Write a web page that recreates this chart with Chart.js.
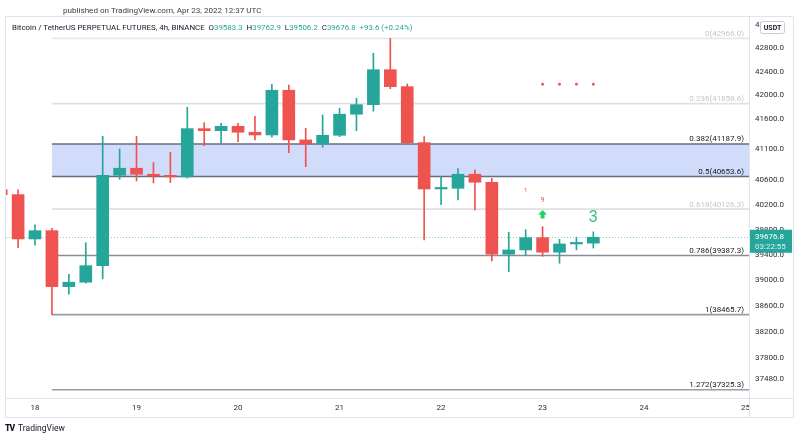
<!DOCTYPE html>
<html lang="en">
<head>
<meta charset="UTF-8">
<title>BTCUSDT Perpetual 4h</title>
<script src="https://cdn.jsdelivr.net/npm/chart.js@4.4.1/dist/chart.umd.min.js"></script>
<style>
html,body{margin:0;padding:0;background:#fff;}
#wrap{position:relative;width:801px;height:440px;font-family:Roboto,"Liberation Sans",sans-serif;color:#131722;}
#c{position:absolute;left:0;top:0;}
.t{position:absolute;white-space:nowrap;line-height:10px;}
.v{color:#26a69a;}
</style>
</head>
<body>
<div id="wrap">
<canvas id="c" width="801" height="440"></canvas>
<div class="t" style="left:63px;top:5px;font-size:8.1px;color:#3b3e47">published on TradingView.com, Apr 23, 2022 12:37 UTC</div>
<div class="t" style="left:12px;top:23px;font-size:7.9px">Bitcoin / TetherUS PERPETUAL FUTURES, 4h, BINANCE&nbsp; O<span class="v">39583.3</span>&nbsp; H<span class="v">39762.9</span>&nbsp; L<span class="v">39506.2</span>&nbsp; C<span class="v">39676.8</span>&nbsp; <span class="v">+93.6 (+0.24%)</span></div>
<div class="t" style="left:5px;top:423px;font-size:8.5px"><b style="font-weight:900;letter-spacing:-1px">TV</b>&nbsp; TradingView</div>
</div>
<script>
// 4h candles, hours from Apr 18 00:00 UTC
const times  = [-8,-4,0,4,8,12,16,20,24,28,32,36,40,44,48,52,56,60,64,68,72,76,80,84,88,92,96,100,104,108,112,116,120,124,128,132];
const opens  = [40436,40360,39650,39782,38900,38969,39228,40675,40789,40691,40663,40648,41441,41407,41480,41381,41336,42083,41254,41188,41331,41681,41841,42431,42144,41209,40452,40462,40691,40561,39408,39476,39671,39440,39571,39583.3];
const highs  = [40460,40436,39873,39820,39094,39591,41315,41105,41315,40881,41050,41798,41540,41530,41530,41647,42184,42172,41447,41669,41781,41949,42711,42966,42189,41309,40652,40782,40761,40626,39756,39798,39846,39645,39677,39762.9];
const lows   = [40330,39512,39550,38465.7,38782,38955,39021,40609,40582,40549,40554,40630,41159,41199,41226,41254,41300,41044,40815,41133,41308,41407,41731,42110,41195,39634,40198,40274,40113,39302,39134,39386,39376,39266,39476,39506.2];
const closes = [40360,39650,39782,38900,38969,39228,40675,40789,40691,40663,40648,41441,41407,41480,41381,41336,42083,41254,41188,41331,41681,41841,42431,42144,41209,40452,40462,40691,40561,39408,39476,39671,39440,39571,39583.3,39676.8];

const fibLevels = [0,0.236,0.382,0.5,0.618,0.786,1,1.272];
const fibPrices = [42966.0,41858.6,41187.9,40653.6,40126.3,39387.3,38465.7,37325.3];
const fibStartHour = 4;

const dotHours  = [120,124,128,132];
const dotPrices = [42184,42184,42184,42184];

const yTicks = [43200,42800,42400,42000,41600,41100,40600,40200,39800,39400,39000,38600,38200,37800,37480];
const xTickHours  = [0,24,48,72,96,120,144,168];
const xTickLabels = ['18','19','20','21','22','23','24','25'];

const GREEN='#26a69a', RED='#ef5350';
const FONT='Roboto, "Liberation Sans", sans-serif';
const fibColors = ['#e6e8ed','#dfe1e6','#686c7c','#686c7c','#dfe1e6','#8a8d96','#9a9ca3','#9a9ca3'];
const fibText   = ['#c4c6cc','#c4c6cc','#202020','#202020','#c4c6cc','#202020','#202020','#202020'];

const col = closes.map((c,i)=> c>=opens[i] ? GREEN : RED);

const overlay = {
  id:'overlay',
  beforeDatasetsDraw(chart){
    const {ctx, chartArea:a, scales:{x,y}} = chart;
    ctx.save();
    ctx.beginPath(); ctx.rect(a.left,a.top,a.right-a.left,a.bottom-a.top); ctx.clip();
    const x0 = x.getPixelForValue(fibStartHour);
    const yA = y.getPixelForValue(fibPrices[2]), yB = y.getPixelForValue(fibPrices[3]);
    ctx.fillStyle='#d1dcfb';
    ctx.fillRect(x0,yA,a.right-x0,yB-yA);
    const yc = Math.round(y.getPixelForValue(closes[closes.length-1]))+0.5;
    ctx.strokeStyle='rgba(38,166,154,0.55)'; ctx.lineWidth=1; ctx.setLineDash([1,2]);
    ctx.beginPath(); ctx.moveTo(a.left,yc); ctx.lineTo(a.right,yc); ctx.stroke();
    ctx.setLineDash([]);
    fibPrices.forEach((p,i)=>{
      const yy = y.getPixelForValue(p);
      ctx.strokeStyle=fibColors[i]; ctx.lineWidth=1.6;
      ctx.beginPath(); ctx.moveTo(x0,yy); ctx.lineTo(a.right,yy); ctx.stroke();
    });
    ctx.restore();
  },
  afterDatasetsDraw(chart){
    const {ctx, chartArea:a, scales:{x,y}} = chart;
    ctx.save();
    ctx.font='8px '+FONT; ctx.textAlign='right'; ctx.textBaseline='alphabetic';
    fibPrices.forEach((p,i)=>{
      ctx.fillStyle=fibText[i];
      ctx.fillText(fibLevels[i]+'('+p.toFixed(1)+')', a.right-5, y.getPixelForValue(p)-2.5);
    });
    // TD sequential marks
    ctx.textAlign='center'; ctx.textBaseline='middle';
    ctx.fillStyle=RED; ctx.font='6px '+FONT;
    ctx.fillText('1', x.getPixelForValue(116), y.getPixelForValue(40420));
    ctx.font='7px '+FONT;
    ctx.fillText('9', x.getPixelForValue(120), y.getPixelForValue(40274));
    const ax = x.getPixelForValue(120), at = y.getPixelForValue(40113);
    ctx.fillStyle='#1fd65f';
    ctx.beginPath(); ctx.moveTo(ax,at); ctx.lineTo(ax+4.5,at+4.5); ctx.lineTo(ax+2,at+4.5); ctx.lineTo(ax+2,at+8.5);
    ctx.lineTo(ax-2,at+8.5); ctx.lineTo(ax-2,at+4.5); ctx.lineTo(ax-4.5,at+4.5); ctx.closePath(); ctx.fill();
    ctx.fillStyle='#34c17c'; ctx.font='16px '+FONT;
    ctx.fillText('3', x.getPixelForValue(132), y.getPixelForValue(39990));
    ctx.restore();
  },
  afterDraw(chart){
    const {ctx, chartArea:a, scales:{y}} = chart;
    ctx.save();
    ctx.strokeStyle='#e0e3eb'; ctx.lineWidth=1;
    const L=a.left-0.5, R=793.5, T=a.top-0.5, B=417.5, AX=a.right+0.5, XB=a.bottom+0.5;
    ctx.beginPath();
    ctx.moveTo(L,T); ctx.lineTo(R,T); ctx.lineTo(R,B); ctx.lineTo(L,B); ctx.closePath();
    ctx.moveTo(AX,T); ctx.lineTo(AX,B);
    ctx.moveTo(L,XB); ctx.lineTo(R,XB);
    ctx.stroke();
    // USDT badge
    ctx.fillStyle='#fff'; ctx.strokeStyle='#c9ccd3';
    ctx.beginPath(); ctx.roundRect(760.5,21.5,24,12,2); ctx.fill(); ctx.stroke();
    ctx.fillStyle='#131722'; ctx.font='bold 7px '+FONT; ctx.textAlign='center'; ctx.textBaseline='middle';
    ctx.fillText('USDT',772.5,28);
    // last price badge
    const yc = y.getPixelForValue(closes[closes.length-1]);
    ctx.fillStyle=GREEN;
    ctx.fillRect(a.right+1, yc-7.5, 42, 23);
    ctx.fillStyle='#fff'; ctx.font='8px '+FONT; ctx.textAlign='left';
    ctx.fillText(closes[closes.length-1].toFixed(1), a.right+6, yc);
    ctx.fillStyle='rgba(255,255,255,0.85)';
    ctx.fillText('03:22:55', a.right+6, yc+10);
    ctx.restore();
  }
};

new Chart(document.getElementById('c'), {
  type:'bar',
  data:{
    datasets:[
      {label:'wick', data: times.map((t,i)=>({x:t, y:[lows[i],highs[i]]})), backgroundColor:col, barThickness:1, grouped:false, order:2},
      {label:'body', data: times.map((t,i)=>({x:t, y:[Math.min(opens[i],closes[i]), Math.max(opens[i],closes[i])]})), backgroundColor:col, barThickness:12, minBarLength:1.5, grouped:false, order:1},
      {type:'line', label:'dots', data: dotHours.map((h,i)=>({x:h, y:dotPrices[i]})), showLine:false, pointRadius:1.4, pointBackgroundColor:RED, pointBorderWidth:0, order:0}
    ]
  },
  options:{
    responsive:false, animation:false,
    layout:{padding:{left:6, top:17, right:8, bottom:23}},
    plugins:{legend:{display:false}, tooltip:{enabled:false}},
    scales:{
      x:{type:'linear', min:-6.86, max:168.8, offset:false,
        grid:{display:false, drawTicks:false, offset:false}, border:{display:false},
        ticks:{autoSkip:false, maxRotation:0, padding:5, color:'#2a2e39', font:{size:8, family:FONT},
          callback:v=>{const k=xTickHours.indexOf(v); return k<0?'':xTickLabels[k];}},
        afterBuildTicks:ax=>{ax.ticks=xTickHours.map(v=>({value:v}));},
        afterFit:ax=>{ax.height=19;}
      },
      y:{type:'logarithmic', position:'right', min:37203, max:43336,
        grid:{display:false, drawTicks:false}, border:{display:false},
        ticks:{autoSkip:false, padding:6, color:'#2a2e39', font:{size:8, family:FONT}, callback:v=>Number(v).toFixed(1)},
        afterBuildTicks:ax=>{ax.ticks=yTicks.map(v=>({value:v}));},
        afterFit:ax=>{ax.width=44;}
      }
    }
  },
  plugins:[overlay]
});
</script>
</body>
</html>
